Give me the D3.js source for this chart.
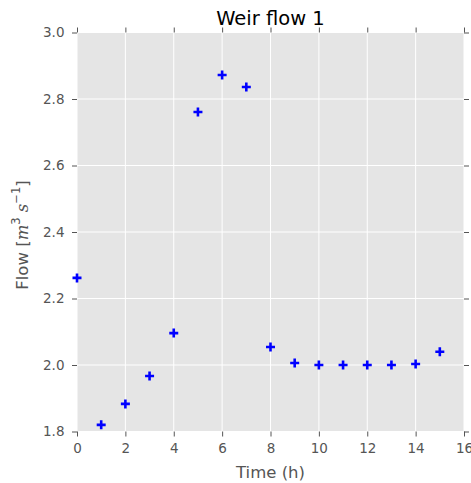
<!DOCTYPE html>
<html><head><meta charset="utf-8">
<script src="https://cdn.jsdelivr.net/npm/d3@7"></script>
<style>body{margin:0;background:#fff;} text{font-family:"DejaVu Sans",sans-serif;}</style>
</head><body>
<svg id="c" width="471" height="483"></svg>
<script>
const timeHours = [0,1,2,3,4,5,6,7,8,9,10,11,12,13,14,15];
const flowValues = [2.262,1.820,1.883,1.967,2.096,2.761,2.872,2.836,2.054,2.006,2.000,2.000,2.000,2.000,2.003,2.040];
const xTicks = [0,2,4,6,8,10,12,14,16];
const yTicks = [1.8,2.0,2.2,2.4,2.6,2.8,3.0];

const svg = d3.select("#c");
const m = {l:77, r:464, t:32.5, b:431.5};
const x = d3.scaleLinear().domain([0,16]).range([m.l, m.r]);
const y = d3.scaleLinear().domain([1.8,3.0]).range([m.b, m.t]);

svg.append("rect").attr("x",m.l).attr("y",m.t).attr("width",m.r-m.l).attr("height",m.b-m.t).attr("fill","#e5e5e5");

const grid = svg.append("g");
grid.selectAll(".gx").data(xTicks).join("line").attr("x1",d=>x(d)).attr("x2",d=>x(d)).attr("y1",m.t).attr("y2",m.b).attr("stroke","#fff").attr("stroke-width",1);
grid.selectAll(".gy").data(yTicks).join("line").attr("y1",d=>y(d)).attr("y2",d=>y(d)).attr("x1",m.l).attr("x2",m.r).attr("stroke","#fff").attr("stroke-width",1);

function styleAxis(g){
  g.select(".domain").remove();
  g.selectAll(".tick line").attr("stroke","#555");
  g.selectAll(".tick text").attr("fill","#555").style("font-size","13.5px").style("font-family","DejaVu Sans");
}
svg.append("g").attr("transform",`translate(0,${m.b})`).call(d3.axisBottom(x).tickValues(xTicks).tickFormat(d3.format("d")).tickSize(5).tickPadding(7)).call(styleAxis);
svg.append("g").attr("transform",`translate(0,${m.t})`).call(d3.axisTop(x).tickValues(xTicks).tickFormat("").tickSize(5)).call(styleAxis);
svg.append("g").attr("transform",`translate(${m.l},0)`).call(d3.axisLeft(y).tickValues(yTicks).tickFormat(d3.format(".1f")).tickSize(5).tickPadding(7.5)).call(styleAxis);
svg.append("g").attr("transform",`translate(${m.r},0)`).call(d3.axisRight(y).tickValues(yTicks).tickFormat("").tickSize(5)).call(styleAxis);

const pts = svg.append("g");
const s = 4.5;
const data = timeHours.map((t,i)=>({t, v:flowValues[i]}));
pts.selectAll("path").data(data).join("path")
  .attr("d", d=>`M${x(d.t)-s},${y(d.v)}H${x(d.t)+s}M${x(d.t)},${y(d.v)-s}V${y(d.v)+s}`)
  .attr("stroke","#0000ff").attr("stroke-width",2.6).attr("fill","none");

svg.append("text").attr("x",(m.l+m.r)/2).attr("y",25).attr("text-anchor","middle").style("font-size","19.5px").attr("fill","#000").text("Weir flow 1");
svg.append("text").attr("x",(m.l+m.r)/2).attr("y",478).attr("text-anchor","middle").style("font-size","16.5px").attr("fill","#555").text("Time (h)");

const yl = svg.append("text").attr("transform",`translate(27.5,235) rotate(-90)`).attr("text-anchor","middle").style("font-size","16.5px").attr("fill","#555");
yl.append("tspan").text("Flow [");
yl.append("tspan").style("font-family","DejaVu Serif").style("font-style","italic").text("m");
yl.append("tspan").attr("dy",-8).style("font-size","11.5px").text("3");
yl.append("tspan").attr("dy",8).text(" ");
yl.append("tspan").style("font-family","DejaVu Serif").style("font-style","italic").text("s");
yl.append("tspan").attr("dy",-8).style("font-size","11.5px").text("−1");
yl.append("tspan").attr("dy",8).text("]");
</script>
</body></html>
